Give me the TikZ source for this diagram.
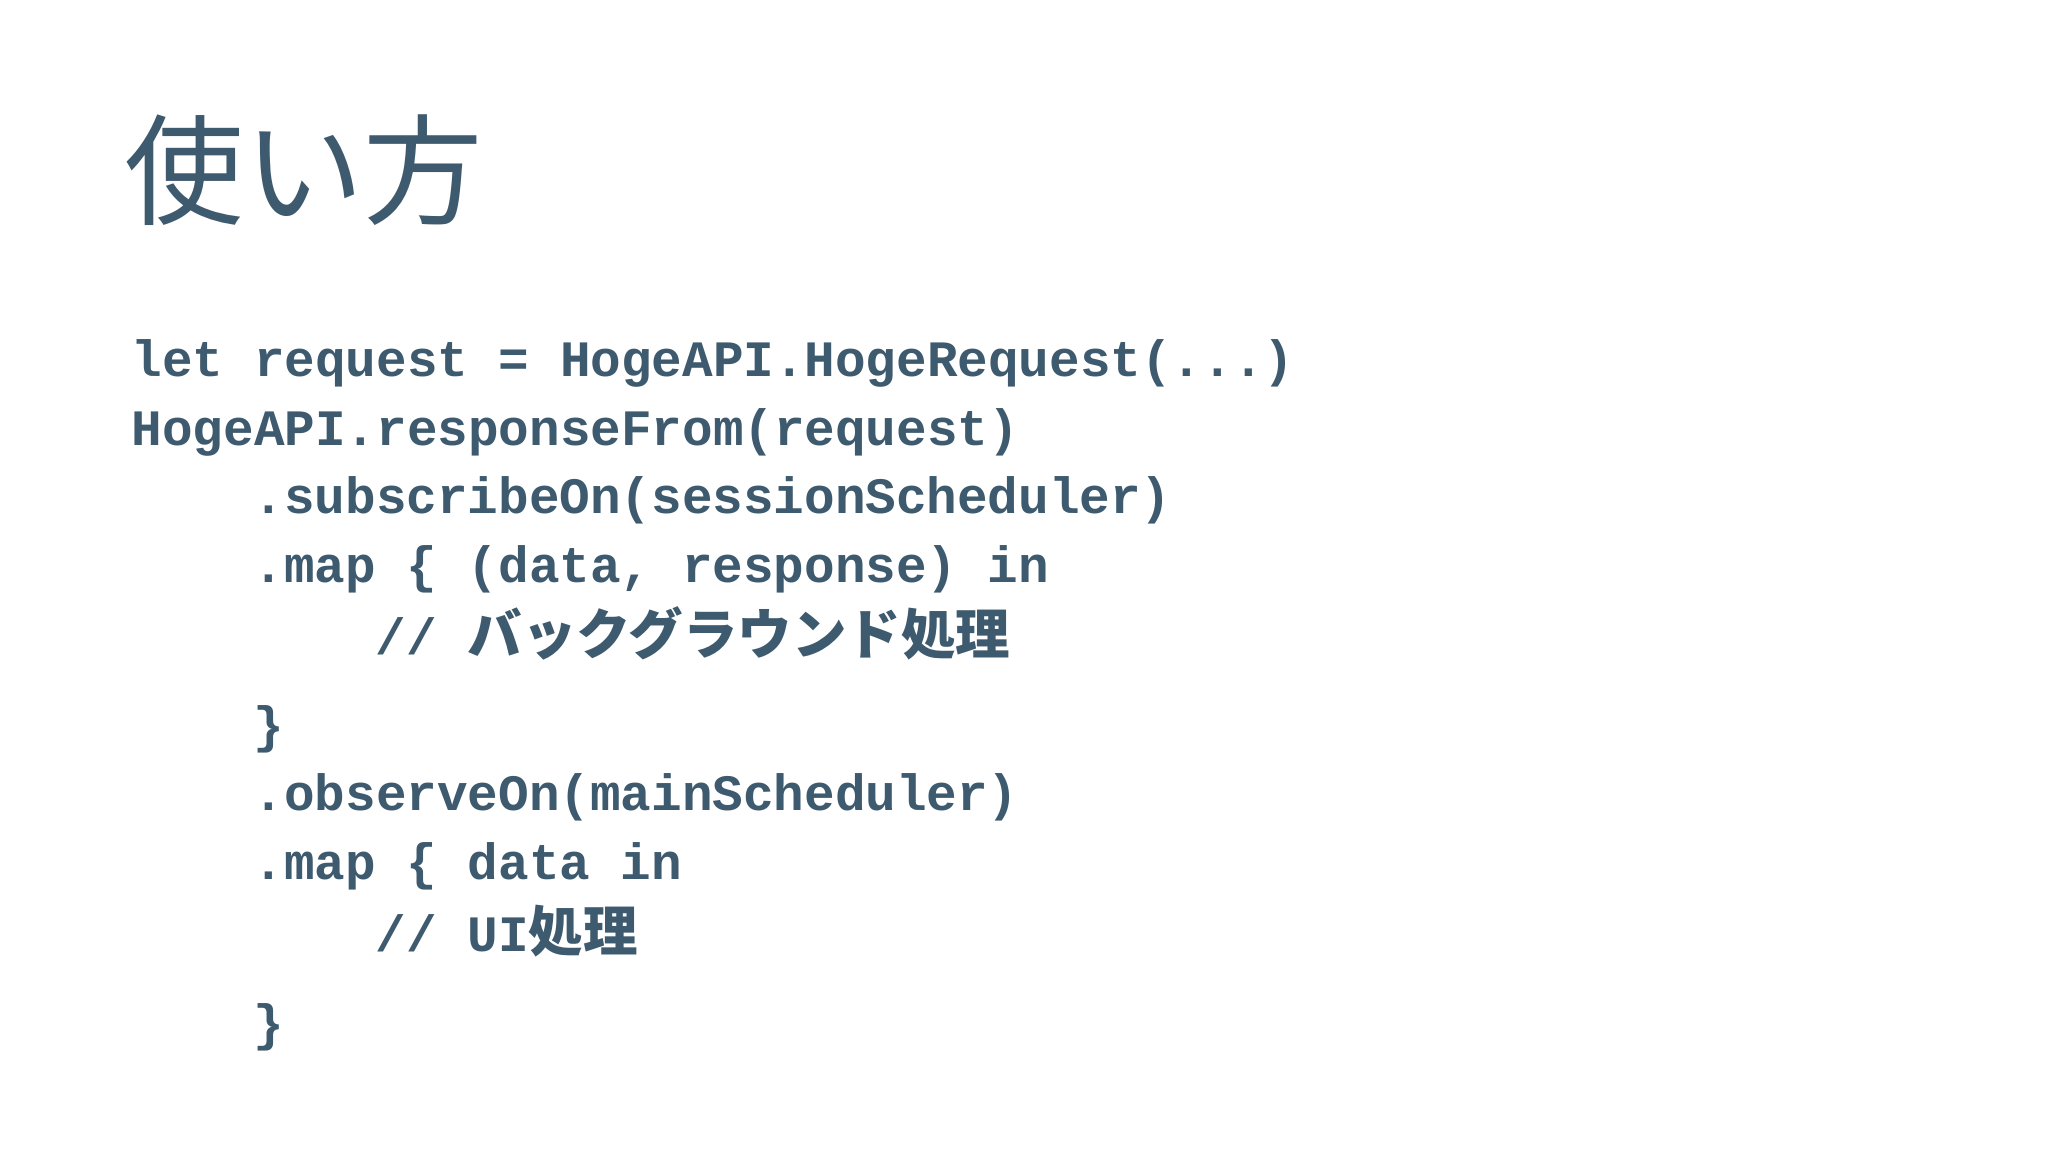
\documentclass[tikz,border=0pt]{standalone}
\usepackage{fontspec}
\setmonofont{Liberation Mono}
\newfontfamily\cjk{Noto Sans CJK JP}
\newfontfamily\cjkb{Noto Sans CJK JP Bold}
\definecolor{ink}{HTML}{3E5A6E}
\begin{document}
\begin{tikzpicture}[x=0.01cm,y=-0.01cm,
  code/.style={anchor=west,inner sep=0pt,text=ink,font=\ttfamily\bfseries\fontsize{14.5}{16}\selectfont}]
\useasboundingbox[fill=white] (0,0) rectangle (2048,1152);
\node[anchor=west,inner sep=0pt,text=ink,font=\cjk\fontsize{34}{40}\selectfont] (title) at (124,170) {使い方};
\node[code] (l1) at (131,363) {let request = HogeAPI.HogeRequest(...)};
\node[code] (l2) at (131,432) {HogeAPI.responseFrom(request)};
\node[code] (l3) at (253,500) {.subscribeOn(sessionScheduler)};
\node[code] (l4) at (253,569) {.map \{ (data, response) in};
\node[code] (l5) at (375,633) {// {\cjkb\fontsize{15.5}{18}\selectfont バックグラウンド処理}};
\node[code] (l6) at (253,729) {\}};
\node[code] (l7) at (253,797) {.observeOn(mainScheduler)};
\node[code] (l8) at (253,866) {.map \{ data in};
\node[code] (l9) at (375,931) {// UI{\cjkb\fontsize{15.5}{18}\selectfont 処理}};
\node[code] (l10) at (253,1027) {\}};
\end{tikzpicture}
\end{document}
